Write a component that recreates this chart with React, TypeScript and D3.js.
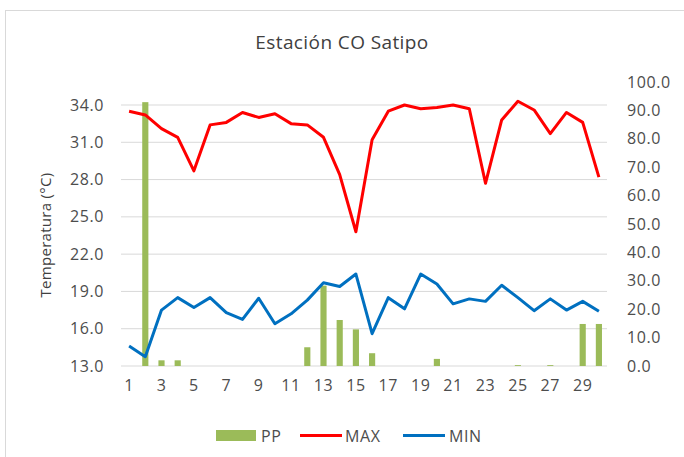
import React, { useEffect, useRef } from 'react';
import * as d3 from 'd3';

const days = d3.range(1, 31);
const maxTemp = [33.5, 33.2, 32.1, 31.4, 28.7, 32.4, 32.6, 33.4, 33.0, 33.3, 32.5, 32.4, 31.4, 28.4, 23.8,
  31.2, 33.5, 34.0, 33.7, 33.8, 34.0, 33.7, 27.7, 32.8, 34.3, 33.6, 31.7, 33.4, 32.6, 28.2];
const minTemp = [14.6, 13.75, 17.5, 18.5, 17.7, 18.5, 17.3, 16.75, 18.45, 16.4, 17.2, 18.3, 19.7, 19.4, 20.4,
  15.6, 18.5, 17.6, 20.4, 19.6, 18.0, 18.4, 18.2, 19.5, 18.5, 17.45, 18.4, 17.5, 18.2, 17.4];
const pp = [0, 92.9, 2.0, 2.0, 0, 0, 0, 0, 0, 0, 0, 6.6, 28.3, 16.2, 12.9,
  4.5, 0, 0, 0, 2.5, 0, 0, 0, 0, 0.3, 0, 0.3, 0, 14.8, 14.8];
const leftTicks = [13, 16, 19, 22, 25, 28, 31, 34];
const rightTicks = d3.range(0, 101, 10);
const xTicks = days.filter((d) => d % 2 === 1);

const W = 684;
const H = 457;

const App = () => {
  const svgRef = useRef<SVGSVGElement>(null);

  useEffect(() => {
    const svg = d3.select(svgRef.current);
    svg.selectAll('*').remove();

    const font = 'Open Sans, Liberation Sans, sans-serif';
    const fs = 16;
    const ls = 0.6;
    const x = d3.scaleBand<number>().domain(days).range([121, 607]);
    const cx = (d: number) => (x(d) as number) + x.bandwidth() / 2;
    const yL = d3.scaleLinear().domain([13, 34]).range([366, 105]);
    const yR = d3.scaleLinear().domain([0, 100]).range([366, 82]);

    // chart border
    svg.append('rect')
      .attr('x', 5.5).attr('y', 10.5)
      .attr('width', W + 10).attr('height', H + 10)
      .attr('fill', '#fff').attr('stroke', '#d9d9d9');

    svg.append('text')
      .attr('x', 342).attr('y', 49)
      .attr('text-anchor', 'middle')
      .attr('font-family', font).attr('font-size', 19)
      .attr('letter-spacing', 0.4)
      .attr('fill', '#404040')
      .text('Estación CO Satipo');

    // Grid lines
    svg.append('g').selectAll('line')
      .data(leftTicks)
      .join('line')
      .attr('x1', 121).attr('x2', 607)
      .attr('y1', (d) => yL(d)).attr('y2', (d) => yL(d))
      .attr('stroke', '#d9d9d9').attr('stroke-width', 1);

    const tickText = (g: d3.Selection<SVGGElement, unknown, null, undefined>) =>
      g.attr('font-family', font).attr('font-size', fs)
        .attr('letter-spacing', ls).attr('fill', '#4d4d4d');

    // left axis labels
    svg.append('g').call(tickText).selectAll('text')
      .data(leftTicks)
      .join('text')
      .attr('x', 104).attr('y', (d) => yL(d) + 5.5)
      .attr('text-anchor', 'end')
      .text((d) => d.toFixed(1));

    // right axis labels
    svg.append('g').call(tickText).selectAll('text')
      .data(rightTicks)
      .join('text')
      .attr('x', 627).attr('y', (d) => yR(d) + 5.5)
      .attr('text-anchor', 'start')
      .text((d) => d.toFixed(1));

    // x labels
    svg.append('g').call(tickText).selectAll('text')
      .data(xTicks)
      .join('text')
      .attr('x', (d) => cx(d)).attr('y', 391)
      .attr('text-anchor', 'middle')
      .text((d) => d);

    svg.append('text')
      .attr('transform', 'translate(51,235) rotate(-90)')
      .attr('text-anchor', 'middle')
      .attr('font-family', font).attr('font-size', 15)
      .attr('letter-spacing', 0.3)
      .attr('fill', '#404040')
      .text('Temperatura (°C)');

    // PP bars
    const bw = x.bandwidth() * 0.38;
    svg.append('g').selectAll('rect')
      .data(days)
      .join('rect')
      .attr('x', (d) => cx(d) - bw / 2)
      .attr('width', bw)
      .attr('y', (d, i) => yR(pp[i]))
      .attr('height', (d, i) => yR(0) - yR(pp[i]))
      .attr('fill', '#9BBB59');

    const lineL = (vals: number[]) =>
      d3.line<number>().x((d) => cx(d)).y((d, i) => yL(vals[i]))(days);

    svg.append('path')
      .attr('d', lineL(maxTemp))
      .attr('fill', 'none').attr('stroke', '#FF0000')
      .attr('stroke-width', 3).attr('stroke-linejoin', 'round');

    svg.append('path')
      .attr('d', lineL(minTemp))
      .attr('fill', 'none').attr('stroke', '#0070C0')
      .attr('stroke-width', 3).attr('stroke-linejoin', 'round');

    // Legend
    const lg = svg.append('g').call(tickText);
    lg.append('rect').attr('x', 216).attr('y', 430).attr('width', 40).attr('height', 11).attr('fill', '#9BBB59');
    lg.append('text').attr('x', 261).attr('y', 441.5).text('PP');
    lg.append('line').attr('x1', 300).attr('x2', 342).attr('y1', 435.5).attr('y2', 435.5)
      .attr('stroke', '#FF0000').attr('stroke-width', 3);
    lg.append('text').attr('x', 345).attr('y', 441.5).text('MAX');
    lg.append('line').attr('x1', 403).attr('x2', 445).attr('y1', 435.5).attr('y2', 435.5)
      .attr('stroke', '#0070C0').attr('stroke-width', 3);
    lg.append('text').attr('x', 449).attr('y', 441.5).text('MIN');
  }, []);

  return (
    <svg ref={svgRef} width={W} height={H}
      style={{ position: 'absolute', left: 0, top: 0, background: '#fff' }} />
  );
};

export default App;
